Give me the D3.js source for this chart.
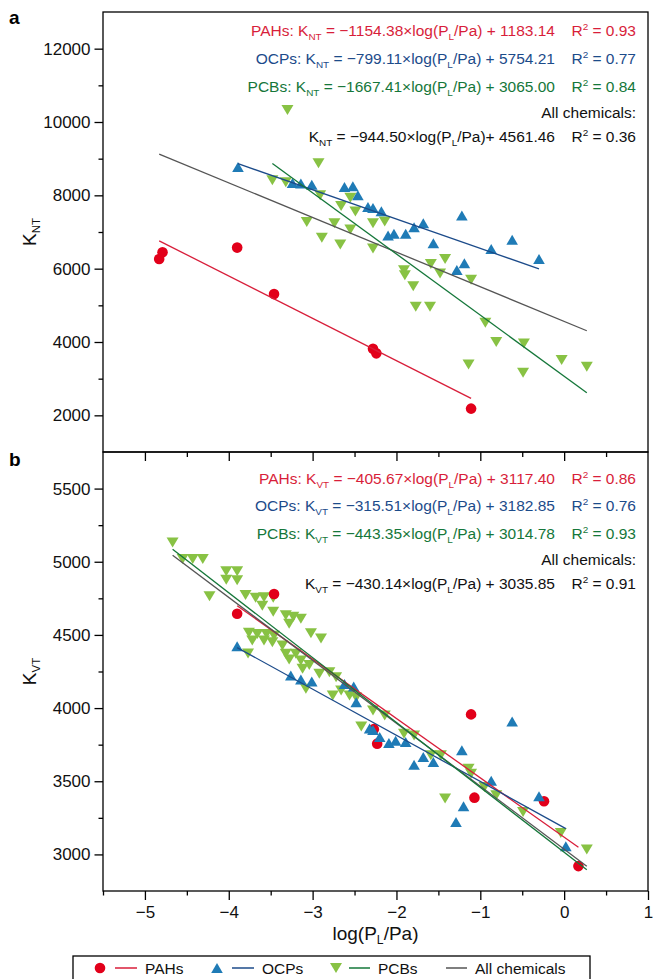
<!DOCTYPE html>
<html>
<head>
<style>
html, body {
    margin: 0;
    padding: 0;
    background: #fff;
    overflow: hidden;
}
svg {
    font-family: Arial, "Liberation Sans", sans-serif;
}
</style>
</head>
<body>
<svg id="chart" width="653" height="979"></svg>
<script src="https://d3js.org/d3.v7.min.js"></script>
<script>
// series names and fit lines (slope, intercept, R2) for each panel
const seriesNames = ["PAHs", "OCPs", "PCBs"];
const slopeNT = [-1154.38, -799.11, -1667.41, -944.50];
const interceptNT = [1183.14, 5754.21, 3065.00, 4561.46];
const r2NT = [0.93, 0.77, 0.84, 0.36];
const slopeVT = [-405.67, -315.51, -443.35, -430.14];
const interceptVT = [3117.40, 3182.85, 3014.78, 3035.85];
const r2VT = [0.86, 0.76, 0.93, 0.91];

// panel a points: [log(PL/Pa), K_NT]
const pahNT = [[-4.83, 6265], [-4.79, 6446], [-3.90, 6575], [-3.46, 5306], [-2.28, 3816], [-2.24, 3690], [-1.11, 2183]];
const ocpNT = [[-3.89, 8775], [-3.24, 8337], [-3.14, 8320], [-3.01, 8287], [-2.62, 8227], [-2.52, 8246], [-2.46, 8000],
    [-2.34, 7679], [-2.28, 7657], [-2.18, 7569], [-2.10, 6904], [-2.03, 6950], [-1.89, 6950], [-1.79, 7131], [-1.68, 7241],
    [-1.56, 6693], [-1.22, 7452], [-1.28, 5964], [-1.19, 6145], [-0.87, 6539], [-0.62, 6786], [-0.30, 6265]];
const pcbNT = [[-3.30, 10329], [-2.93, 8876], [-3.48, 8411], [-3.32, 8356], [-2.91, 8000], [-2.55, 7931], [-2.66, 7712],
    [-2.49, 7561], [-2.28, 7241], [-2.14, 7287], [-3.07, 7274], [-2.74, 7241], [-2.55, 7068], [-2.89, 6841], [-2.67, 6657],
    [-2.28, 6547], [-1.91, 5958], [-1.90, 5821], [-1.80, 5520], [-1.59, 6128], [-1.42, 6265], [-1.48, 5871], [-1.11, 5698],
    [-1.77, 4958], [-1.60, 4958], [-0.94, 4528], [-0.81, 4000], [-0.48, 3958], [-1.14, 3388], [-0.49, 3158], [-0.03, 3506],
    [0.27, 3322]];

// panel b points: [log(PL/Pa), K_VT]
const pahVT = [[-3.90, 4645], [-3.46, 4780], [-2.27, 3856], [-2.23, 3757], [-1.11, 3957], [-1.07, 3388], [-0.24, 3363], [0.17, 2920]];
const ocpVT = [[-3.90, 4422], [-3.26, 4223], [-3.14, 4195], [-3.01, 4181], [-2.62, 4165], [-2.51, 4148], [-2.48, 4040],
    [-2.32, 3861], [-2.28, 3851], [-2.20, 3803], [-2.09, 3761], [-2.01, 3776], [-1.89, 3768], [-1.79, 3612], [-1.68, 3665],
    [-1.56, 3631], [-1.22, 3711], [-0.87, 3503], [-0.62, 3909], [-1.20, 3329], [-1.29, 3222], [-0.30, 3397], [0.02, 3056]];
const pcbVT = [[-4.67, 5132], [-4.55, 5018], [-4.43, 5018], [-4.31, 5018], [-4.03, 4935], [-3.90, 4935], [-4.03, 4877],
    [-3.90, 4874], [-4.23, 4765], [-3.80, 4773], [-3.68, 4754], [-3.58, 4757], [-3.47, 4754], [-3.60, 4700], [-3.47, 4659],
    [-3.32, 4635], [-3.23, 4625], [-3.14, 4611], [-3.28, 4577], [-3.02, 4512], [-2.90, 4475], [-3.76, 4514], [-3.66, 4507],
    [-3.55, 4507], [-3.46, 4495], [-3.72, 4461], [-3.58, 4461], [-3.48, 4450], [-3.36, 4427], [-3.77, 4373], [-3.32, 4371],
    [-3.20, 4371], [-3.28, 4332], [-3.14, 4325], [-3.04, 4295], [-3.12, 4268], [-2.92, 4234], [-2.80, 4245], [-2.72, 4211],
    [-3.08, 4132], [-2.66, 4120], [-2.76, 4086], [-2.56, 4086], [-2.48, 4072], [-2.28, 3984], [-2.14, 3950], [-2.42, 3875],
    [-1.91, 3825], [-1.79, 3813], [-1.59, 3677], [-1.47, 3677], [-1.14, 3586], [-1.11, 3552], [-0.95, 3461], [-0.81, 3404],
    [-1.42, 3382], [-0.49, 3290], [-0.04, 3147], [0.27, 3034]];

const xTicks = [-5, -4, -3, -2, -1, 0, 1];
const xMinor = [-5.5, -4.5, -3.5, -2.5, -1.5, -0.5, 0.5];

const markerColor = ["#e2001a", "#1f7bb6", "#88c244"];
const lineColor = ["#d81e3a", "#1c4b8a", "#15773a", "#555555"];
const textColor = ["#d81e3a", "#1c4b8a", "#15773a", "#111111"];

const svg = d3.select("#chart");
const x = d3.scaleLinear().domain([-5.5, 1]).range([103, 648]);

const shapes = [
    "M5.3,0A5.3,5.3,0,1,1,-5.3,0A5.3,5.3,0,1,1,5.3,0Z",
    "M0,-5L5.8,5L-5.8,5Z",
    "M-6,-5L6,-5L0,5Z"
];

const fmt = d3.format(".2f");

function richText(g, px, py, color, size, parts, anchor) {
    const t = g.append("text")
        .attr("x", px)
        .attr("y", py)
        .attr("text-anchor", anchor || "end")
        .attr("fill", color)
        .attr("font-size", size);
    let shift = 0;
    parts.forEach(([s, kind]) => {
        const target = kind === "sub" ? 4 : kind === "sup" ? -6 : 0;
        t.append("tspan")
            .attr("dy", target - shift)
            .attr("font-size", kind ? size * 0.64 : null)
            .text(s);
        shift = target;
    });
    return t;
}

const panels = [
    {
        label: "a", sub: "NT", top: 12, bottom: 452, domain: [1000, 13000],
        major: d3.range(2000, 12001, 2000), minor: d3.range(3000, 11001, 2000),
        data: [pahNT, ocpNT, pcbNT], slope: slopeNT, icpt: interceptNT, r2: r2NT,
        rows: [36, 63.5, 91.5, 118, 141.5], allJoin: "+ "
    },
    {
        label: "b", sub: "VT", top: 452, bottom: 891, domain: [2750, 5750],
        major: d3.range(3000, 5501, 500), minor: d3.range(3250, 5251, 500),
        data: [pahVT, ocpVT, pcbVT], slope: slopeVT, icpt: interceptVT, r2: r2VT,
        rows: [483.5, 511, 538.5, 565, 588.5], allJoin: " + "
    }
];

panels.forEach(p => {
    const y = d3.scaleLinear().domain(p.domain).range([p.bottom, p.top]);
    const g = svg.append("g");

    // left axis, major and minor ticks
    const yAxis = g.append("g")
        .attr("transform", "translate(103,0)")
        .call(d3.axisLeft(y).tickValues(p.major).tickSize(8.5).tickPadding(4).tickFormat(d3.format("d")));
    g.append("g")
        .attr("transform", "translate(103,0)")
        .call(d3.axisLeft(y).tickValues(p.minor).tickSize(4.5).tickFormat(""));

    g.selectAll(".domain").remove();
    g.selectAll(".tick line").attr("stroke", "#000").attr("stroke-width", 1.3);
    yAxis.selectAll("text").attr("font-size", 17).attr("fill", "#111")
        .attr("font-family", "Arial, 'Liberation Sans', sans-serif");

    // frame
    g.append("rect")
        .attr("x", 103).attr("y", p.top)
        .attr("width", 545).attr("height", p.bottom - p.top)
        .attr("fill", "none").attr("stroke", "#000").attr("stroke-width", 1.3);

    // markers: green first, then red, then blue on top
    [2, 0, 1].forEach(i => {
        g.append("g").selectAll("path")
            .data(p.data[i])
            .join("path")
            .attr("d", shapes[i])
            .attr("transform", d => `translate(${x(d[0])},${y(d[1])})`)
            .attr("fill", markerColor[i]);
    });

    // fit lines over each series extent, plus all chemicals
    const all = p.data.flat();
    const extents = p.data.map(s => d3.extent(s, d => d[0])).concat([d3.extent(all, d => d[0])]);
    const line = d3.line().x(d => x(d[0])).y(d => y(d[1]));
    [0, 1, 3, 2].forEach(i => {
        const pts = extents[i].map(v => [v, p.slope[i] * v + p.icpt[i]]);
        g.append("path")
            .attr("d", line(pts))
            .attr("fill", "none")
            .attr("stroke", lineColor[i])
            .attr("stroke-width", 1.3);
    });

    // equations
    for (let i = 0; i < 3; i++) {
        richText(g, 555, p.rows[i], textColor[i], 15.5, [
            [seriesNames[i] + ": K"], [p.sub, "sub"],
            [" = " + fmt(p.slope[i]) + "×log(P"], ["L", "sub"],
            ["/Pa) + " + fmt(p.icpt[i])]
        ]);
        richText(g, 636, p.rows[i], textColor[i], 15.5, [["R"], ["2", "sup"], [" = " + fmt(p.r2[i])]]);
    }
    richText(g, 636, p.rows[3], textColor[3], 15.5, [["All chemicals:"]]);
    richText(g, 555, p.rows[4], textColor[3], 15.5, [
        ["K"], [p.sub, "sub"],
        [" = " + fmt(p.slope[3]) + "×log(P"], ["L", "sub"],
        ["/Pa)" + p.allJoin + fmt(p.icpt[3])]
    ]);
    richText(g, 636, p.rows[4], textColor[3], 15.5, [["R"], ["2", "sup"], [" = " + fmt(p.r2[3])]]);

    // y title
    const mid = (p.top + p.bottom) / 2;
    const yt = svg.append("text")
        .attr("transform", `translate(36,${mid}) rotate(-90)`)
        .attr("text-anchor", "middle")
        .attr("font-size", 19)
        .attr("fill", "#111");
    yt.append("tspan").text("K");
    yt.append("tspan").attr("dy", 4).attr("font-size", 11.5).text(p.sub);

    // panel letter
    svg.append("text")
        .attr("x", 9).attr("y", p.label === "a" ? 24 : 466)
        .attr("font-size", 19).attr("font-weight", "bold")
        .text(p.label);
});

// inner ticks on top of panel b
const topTicks = svg.append("g").attr("transform", "translate(0,452)");
topTicks.append("g").call(d3.axisBottom(x).tickValues(xTicks.slice(0, -1)).tickSize(9).tickFormat(""));
topTicks.append("g").call(d3.axisBottom(x).tickValues(xMinor.slice(1)).tickSize(5).tickFormat(""));

// bottom axis
const bottom = svg.append("g").attr("transform", "translate(0,891)");
bottom.append("g").call(d3.axisBottom(x).tickValues(xTicks).tickSize(9).tickPadding(6).tickFormat(d3.format("d")));
bottom.append("g").call(d3.axisBottom(x).tickValues(xMinor).tickSize(4.5).tickFormat(""));
[topTicks, bottom].forEach(a => {
    a.selectAll(".domain").remove();
    a.selectAll(".tick line").attr("stroke", "#000").attr("stroke-width", 1.3);
});
bottom.selectAll("text").attr("font-size", 17).attr("fill", "#111")
    .attr("font-family", "Arial, 'Liberation Sans', sans-serif");

// x title
richText(svg, 375.5, 940, "#111", 19, [["log(P"], ["L", "sub"], ["/Pa)"]], "middle");

// legend
const legend = svg.append("g");
legend.append("rect")
    .attr("x", 73).attr("y", 956).attr("width", 517).attr("height", 32)
    .attr("fill", "none").attr("stroke", "#000").attr("stroke-width", 1.3);
const legendItems = [
    { name: "PAHs", marker: 0, mx: 100, l0: 115, l1: 137, tx: 145 },
    { name: "OCPs", marker: 1, mx: 217, l0: 232, l1: 254, tx: 262 },
    { name: "PCBs", marker: 2, mx: 336, l0: 349, l1: 370, tx: 378 },
    { name: "All chemicals", marker: 3, mx: null, l0: 446, l1: 467, tx: 475 }
];
legendItems.forEach(it => {
    if (it.mx !== null) {
        legend.append("path")
            .attr("d", shapes[it.marker])
            .attr("transform", `translate(${it.mx},968)`)
            .attr("fill", markerColor[it.marker]);
    }
    legend.append("line")
        .attr("x1", it.l0).attr("x2", it.l1).attr("y1", 968).attr("y2", 968)
        .attr("stroke", lineColor[it.marker]).attr("stroke-width", 1.5);
    legend.append("text")
        .attr("x", it.tx).attr("y", 973.5)
        .attr("font-size", 15.5).attr("fill", "#111")
        .text(it.name);
});
</script>
</body>
</html>
